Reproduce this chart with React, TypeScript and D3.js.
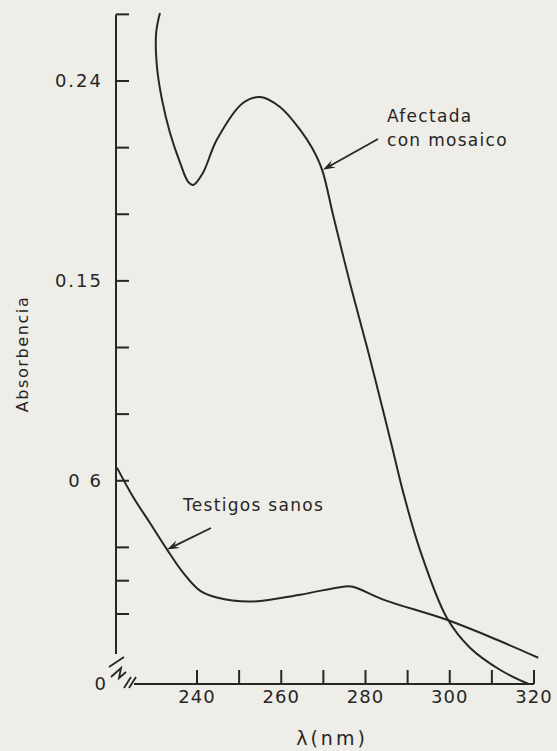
import React from 'react'
import * as d3 from 'd3'

const W = 557
const H = 751
const BG = '#efede7'
const INK = '#262626'
const FONT = '"DejaVu Sans", "Noto Sans", sans-serif'

// wavelength (nm), absorbance
const afectadaNm = [231.2, 230.3, 230.5, 231.7, 233.6, 236.0, 237.9, 239.1, 241.4, 244.7, 250.9, 255.0, 259.7, 264.5, 267.3, 269.7, 272.3, 276.3, 280.4, 283.4, 286.3, 288.9, 292.9, 299.3, 304.8, 311.9, 318.6]
const afectadaAbs = [0.2706, 0.2616, 0.2463, 0.2315, 0.2166, 0.2031, 0.1946, 0.1932, 0.1986, 0.2135, 0.2301, 0.2328, 0.2283, 0.218, 0.2099, 0.2, 0.1797, 0.1491, 0.1199, 0.0974, 0.0753, 0.0551, 0.029, -0.0017, -0.0152, -0.0251, -0.0314]

const testigosNm = [221.0, 224.8, 228.8, 232.9, 236.7, 240.7, 244.7, 252.6, 264.5, 274.7, 277.0, 284.2, 299.3, 311.2, 321.0]
const testigosAbs = [0.0659, 0.0528, 0.0411, 0.029, 0.0186, 0.0105, 0.0074, 0.0056, 0.0087, 0.0123, 0.0123, 0.0065, -0.0026, -0.0116, -0.0197]

const xTicks = [240, 250, 260, 270, 280, 290, 300, 310, 320]
const xLabels = [240, 260, 280, 300, 320]
const yTicks = [0.27, 0.24, 0.21, 0.18, 0.15, 0.12, 0.09, 0.06, 0.03, 0.015, 0]
const yLabels = [
  { v: 0.24, t: '0.24' },
  { v: 0.15, t: '0.15' },
  { v: 0.06, t: '0 6' }
]

const x = d3.scaleLinear().domain([240, 320]).range([197, 534])
const y = d3.scaleLinear().domain([0, 0.24]).range([614, 81])

const axisX = 116
const baseY = 684
const yTop = y(0.27)

const line = d3
  .line<[number, number]>()
  .x(d => x(d[0]))
  .y(d => y(d[1]))
  .curve(d3.curveCatmullRom.alpha(0.5))

const arrow = (x1: number, y1: number, x2: number, y2: number) => {
  const a = Math.atan2(y2 - y1, x2 - x1)
  const len = 13
  const spread = 0.33
  const p1 = [x2 - len * Math.cos(a - spread), y2 - len * Math.sin(a - spread)]
  const p2 = [x2 - len * Math.cos(a + spread), y2 - len * Math.sin(a + spread)]
  const back = [x2 - len * 0.6 * Math.cos(a), y2 - len * 0.6 * Math.sin(a)]
  return (
    <g>
      <line x1={x1} y1={y1} x2={back[0]} y2={back[1]} stroke={INK} strokeWidth={1.8} />
      <path d={`M${x2},${y2}L${p1[0]},${p1[1]}L${back[0]},${back[1]}L${p2[0]},${p2[1]}Z`} fill={INK} />
    </g>
  )
}

export default function App() {
  const afectada = afectadaNm.map((n, i) => [n, afectadaAbs[i]] as [number, number])
  const testigos = testigosNm.map((n, i) => [n, testigosAbs[i]] as [number, number])
  const textStyle = { fontFamily: FONT, fill: INK }
  const labelStyle = { ...textStyle, fontWeight: 500, letterSpacing: '1.3px' }

  return (
    <svg width={W} height={H} style={{ position: 'absolute', left: 0, top: 0, background: BG }}>
      <rect width={W} height={H} fill={BG} />

      {/* y axis */}
      <line x1={axisX} y1={yTop} x2={axisX} y2={654} stroke={INK} strokeWidth={2} />
      {yTicks.map(v => (
        <line key={v} x1={axisX} x2={axisX + 13} y1={y(v)} y2={y(v)} stroke={INK} strokeWidth={2} />
      ))}
      {yLabels.map(d => (
        <text key={d.t} x={103} y={y(d.v)} dy="0.36em" textAnchor="end" fontSize={18}
          style={{ ...textStyle, letterSpacing: '2px' }}>
          {d.t}
        </text>
      ))}
      <text x={106} y={baseY} dy="0.36em" textAnchor="end" fontSize={18} style={textStyle}>0</text>
      <text
        transform={`translate(28,${354}) rotate(-90)`}
        textAnchor="middle"
        fontSize={16}
        style={{ ...textStyle, letterSpacing: '1.6px' }}
      >
        Absorbencia
      </text>

      {/* axis break marks */}
      <g stroke={INK} strokeWidth={1.8} fill="none">
        <line x1={109} y1={667} x2={124} y2={657} />
        <path d="M111,677 L121,668 L119,678 L126,672" />
        <line x1={124} y1={688} x2={131} y2={677} />
        <line x1={129} y1={688} x2={136} y2={677} />
      </g>

      {/* x axis */}
      <line x1={134} x2={x(320)} y1={baseY} y2={baseY} stroke={INK} strokeWidth={2} />
      {xTicks.map(v => (
        <line key={v} x1={x(v)} x2={x(v)} y1={baseY} y2={baseY - 14} stroke={INK} strokeWidth={2} />
      ))}
      {xLabels.map(v => (
        <text key={v} x={x(v)} y={703} textAnchor="middle" fontSize={18}
          style={{ ...textStyle, letterSpacing: '1px' }}>
          {v}
        </text>
      ))}
      <text x={332} y={745} textAnchor="middle" fontSize={19} style={{ ...textStyle, letterSpacing: '3px' }}>
        λ(nm)
      </text>

      {/* curves */}
      <path d={line(afectada) || ''} fill="none" stroke={INK} strokeWidth={2} />
      <path d={line(testigos) || ''} fill="none" stroke={INK} strokeWidth={2} />

      {/* annotations */}
      <text x={387} y={122} fontSize={17} style={labelStyle}>Afectada</text>
      <text x={387} y={146} fontSize={17} style={labelStyle}>con mosaico</text>
      {arrow(378, 139, x(269.9), y(0.2))}

      <text x={183} y={511} fontSize={17} style={labelStyle}>Testigos sanos</text>
      {arrow(211, 528, x(232.9), y(0.029))}
    </svg>
  )
}
